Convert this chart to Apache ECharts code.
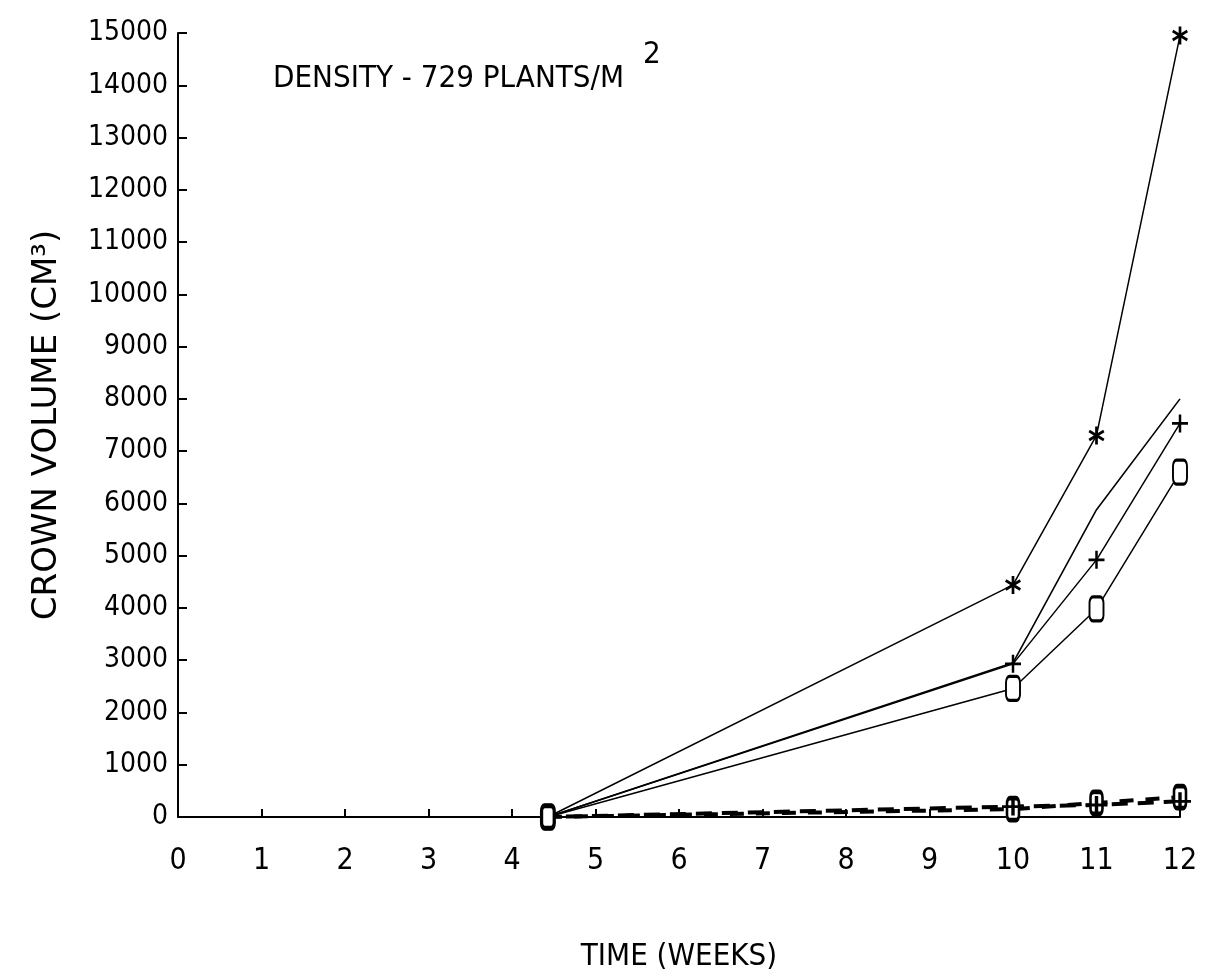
<!DOCTYPE html>
<html>
<head>
<meta charset="utf-8">
<script src="https://cdn.jsdelivr.net/npm/echarts@6/dist/echarts.min.js"></script>
<style>
html,body{margin:0;padding:0;background:#fff;}
#c{width:1224px;height:977px;}
</style>
</head>
<body>
<div id="c"></div>
<script>
// ---- data ----
const weeks = [4.43, 10, 11, 12];
const volStar = [0, 4440, 7300, 14950];   // '*' series
const volPlus = [0, 2930, 4920, 7530];    // '+' series
const volZero = [0, 2460, 3980, 6600];    // '0' series
const volFit  = [0, 2950, 5880, 8000];    // line without markers
const dashZero = [0, 150, 270, 380];      // dashed, '0' markers
const dashPlus = [0, 200, 230, 300];      // dashed, '+' markers
const xTicks = [0,1,2,3,4,5,6,7,8,9,10,11,12];
const yMax = 15000, yStep = 1000;

const FONT = '"Liberation Sans Narrow", "DejaVu Sans Condensed", sans-serif';

const SYM_STAR = 'path://M-1.6,-10L1.6,-10L1.6,10L-1.6,10Z M-7.86,-6.4L9.46,3.6L7.86,6.4L-9.46,-3.6Z M-9.46,3.6L7.86,-6.4L9.46,-3.6L-7.86,6.4Z';
const SYM_PLUS = 'path://M-1.4,-9L1.4,-9L1.4,9L-1.4,9Z M-9,-1.4L9,-1.4L9,1.4L-9,1.4Z';

function pairs(ys, hideFirst) {
  return weeks.map((w, i) => (hideFirst && i === 0) ? {value: [w, ys[i]], symbol: 'none'} : [w, ys[i]]);
}

const black = '#000';
const lineBase = {type: 'line', animation: false, z: 3};

const series = [
  Object.assign({}, lineBase, {
    name: 'fit', data: pairs(volFit), showSymbol: false, symbol: 'none',
    lineStyle: {color: black, width: 1.6}
  }),
  Object.assign({}, lineBase, {
    name: 'star', data: pairs(volStar, true), symbol: SYM_STAR, symbolSize: [16, 18],
    itemStyle: {color: black}, lineStyle: {color: black, width: 1.5}
  }),
  Object.assign({}, lineBase, {
    name: 'plus', data: pairs(volPlus, true), symbol: SYM_PLUS, symbolSize: [16, 18],
    itemStyle: {color: black}, lineStyle: {color: black, width: 1.5}
  }),
  Object.assign({}, lineBase, {
    name: 'zero', data: pairs(volZero), symbol: 'roundRect', symbolSize: [14, 24],
    itemStyle: {color: '#fff', borderColor: black, borderWidth: 2.5}, lineStyle: {color: black, width: 1.5}
  }),
  Object.assign({}, lineBase, {
    name: 'dash0', data: pairs(dashZero), symbol: 'roundRect', symbolSize: [12, 22],
    itemStyle: {color: '#fff', borderColor: black, borderWidth: 3.5},
    lineStyle: {color: black, width: 4, type: [14, 12]}
  }),
  Object.assign({}, lineBase, {
    name: 'dashP', data: pairs(dashPlus, true), symbol: SYM_PLUS, symbolSize: [22, 18],
    itemStyle: {color: black},
    lineStyle: {color: black, width: 4, type: [16, 10], dashOffset: 8}
  })
];

const chart = echarts.init(document.getElementById('c'), null, {renderer: 'canvas'});
chart.setOption({
  backgroundColor: '#fff',
  animation: false,
  title: [
    {text: 'DENSITY - 729 PLANTS/M', left: 268, top: 58,
     textStyle: {fontFamily: FONT, fontSize: 31, fontWeight: 'normal', color: black}},
    {text: '2', left: 638, top: 34,
     textStyle: {fontFamily: FONT, fontSize: 31, fontWeight: 'normal', color: black}}
  ],
  grid: {left: 178, right: 44, top: 33, bottom: 155, containLabel: false},
  xAxis: {
    type: 'value', min: xTicks[0], max: xTicks[xTicks.length - 1], interval: 1,
    name: 'TIME (WEEKS)', nameLocation: 'middle', nameGap: 124,
    nameTextStyle: {fontFamily: FONT, fontSize: 31, color: black},
    axisLine: {show: true, onZero: false, lineStyle: {color: black, width: 2}},
    axisTick: {show: true, inside: true, length: 8, lineStyle: {color: black, width: 2}},
    axisLabel: {margin: 29, fontFamily: FONT, fontSize: 30, color: black,
      formatter: v => xTicks.includes(v) ? String(v) : ''},
    splitLine: {show: false}
  },
  yAxis: {
    type: 'value', min: 0, max: yMax, interval: yStep,
    name: 'CROWN VOLUME (CM³)', nameLocation: 'middle', nameGap: 114, nameRotate: 90,
    nameTextStyle: {fontFamily: '"DejaVu Sans", sans-serif', fontSize: 34, color: black},
    axisLine: {show: true, lineStyle: {color: black, width: 2}},
    axisTick: {show: true, inside: true, length: 9, lineStyle: {color: black, width: 2}},
    axisLabel: {margin: 10, fontFamily: FONT, fontSize: 28, color: black,
      formatter: v => String(v)},
    splitLine: {show: false}
  },
  series: series
});
</script>
</body>
</html>
